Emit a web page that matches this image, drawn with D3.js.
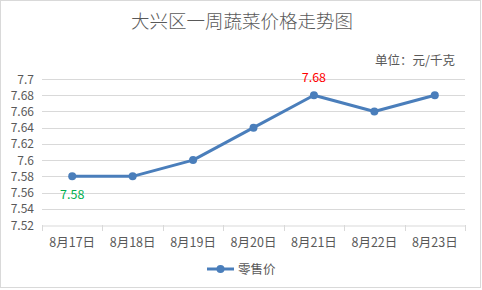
<!DOCTYPE html>
<html>
<head>
<meta charset="utf-8">
<script src="https://cdn.jsdelivr.net/npm/d3@7"></script>
<style>
body { margin: 0; background: #fff; }
text { font-family: "Microsoft YaHei", "Noto Sans CJK SC", sans-serif; }
</style>
</head>
<body>
<svg id="chart" width="482" height="290"></svg>
<script>
var dates = ["8月17日", "8月18日", "8月19日", "8月20日", "8月21日", "8月22日", "8月23日"];
var prices = [7.58, 7.58, 7.60, 7.64, 7.68, 7.66, 7.68];
var yTicks = [7.52, 7.54, 7.56, 7.58, 7.6, 7.62, 7.64, 7.66, 7.68, 7.7];
// labels shown on the chart: [index, color, above?]
var pointLabels = [[0, "#00b050", false], [4, "#ff0000", true]];

var svg = d3.select("#chart");
var plot = {left: 42, right: 465, top: 79, bottom: 225};
var lineColor = "#4a7ebb";

// border of the chart box
svg.append("rect")
	.attr("x", 0.5).attr("y", 0.5)
	.attr("width", 480).attr("height", 287)
	.attr("fill", "#fff")
	.attr("stroke", "#d9d9d9");

var xScale = d3.scaleBand()
	.domain(dates)
	.range([plot.left, plot.right]);
var yScale = d3.scaleLinear()
	.domain([7.52, 7.7])
	.range([plot.bottom, plot.top]);

// title
svg.append("text")
	.attr("x", 242).attr("y", 28)
	.attr("text-anchor", "middle")
	.attr("font-size", 18.5)
	.attr("font-weight", 300)
	.attr("fill", "#595959")
	.text("大兴区一周蔬菜价格走势图");

svg.append("text")
	.attr("x", 455).attr("y", 65)
	.attr("text-anchor", "end")
	.attr("font-size", 12.5)
	.attr("fill", "#595959")
	.text("单位：元/千克");

// grid lines
svg.append("g")
	.selectAll("line")
	.data(yTicks.slice(1))
	.enter().append("line")
	.attr("x1", plot.left).attr("x2", plot.right)
	.attr("y1", function(d){ return Math.round(yScale(d)) + 0.5; })
	.attr("y2", function(d){ return Math.round(yScale(d)) + 0.5; })
	.attr("stroke", "#d9d9d9");

// y labels
svg.append("g")
	.selectAll("text")
	.data(yTicks)
	.enter().append("text")
	.attr("x", 34)
	.attr("y", function(d){ return yScale(d) + 4.5; })
	.attr("text-anchor", "end")
	.attr("font-size", 12)
	.attr("fill", "#595959")
	.text(function(d){ return d3.format("")(d); });

// x axis
var xAxis = d3.axisBottom(xScale).tickSize(0).tickPadding(13);
var gx = svg.append("g")
	.attr("transform", "translate(0," + (plot.bottom + 0.5) + ")")
	.call(xAxis);
gx.select(".domain").attr("stroke", "#d9d9d9");
gx.selectAll("text")
	.attr("font-size", 12.5)
	.attr("fill", "#595959")
	.style("font-family", "\"Microsoft YaHei\", \"Noto Sans CJK SC\", sans-serif");

// tick marks at band boundaries
var bounds = dates.map(function(d){ return xScale(d); }).concat([plot.right]);
svg.append("g")
	.selectAll("line")
	.data(bounds)
	.enter().append("line")
	.attr("x1", function(d){ return Math.round(d) + 0.5; })
	.attr("x2", function(d){ return Math.round(d) + 0.5; })
	.attr("y1", plot.bottom)
	.attr("y2", plot.bottom + 6)
	.attr("stroke", "#d9d9d9");

// line
var cx = function(d, i){ return xScale(dates[i]) + xScale.bandwidth() / 2; };
var lineGenerator = d3.line()
	.x(cx)
	.y(function(d){ return yScale(d); });

svg.append("path")
	.attr("d", lineGenerator(prices))
	.attr("fill", "none")
	.attr("stroke", lineColor)
	.attr("stroke-width", 3)
	.attr("stroke-linejoin", "round");

svg.append("g")
	.selectAll("circle")
	.data(prices)
	.enter().append("circle")
	.attr("cx", cx)
	.attr("cy", function(d){ return yScale(d); })
	.attr("r", 4)
	.attr("fill", lineColor);

// data labels
svg.append("g")
	.selectAll("text")
	.data(pointLabels)
	.enter().append("text")
	.attr("x", function(d){ return cx(null, d[0]); })
	.attr("y", function(d){ return yScale(prices[d[0]]) + (d[2] ? -13 : 23); })
	.attr("text-anchor", "middle")
	.attr("font-size", 12.5)
	.attr("fill", function(d){ return d[1]; })
	.text(function(d){ return prices[d[0]].toFixed(2); });

// legend
var legend = svg.append("g").attr("transform", "translate(207,269)");
legend.append("line")
	.attr("x1", 0).attr("x2", 27)
	.attr("stroke", lineColor).attr("stroke-width", 3);
legend.append("circle")
	.attr("cx", 13.5).attr("r", 4).attr("fill", lineColor);
legend.append("text")
	.attr("x", 31).attr("y", 4.5)
	.attr("font-size", 12.5)
	.attr("fill", "#595959")
	.text("零售价");
</script>
</body>
</html>
